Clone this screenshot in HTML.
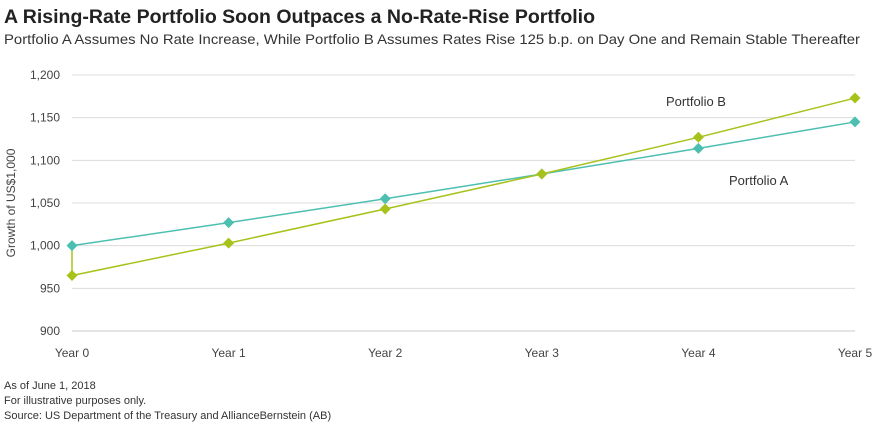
<!DOCTYPE html>
<html><head><meta charset="utf-8"><style>
body{margin:0;background:#fff;font-family:"Liberation Sans",sans-serif;}
svg text{font-family:"Liberation Sans",sans-serif;}
</style></head><body>
<svg width="880" height="425" viewBox="0 0 880 425">
<text x="4" y="23" font-size="19" font-weight="bold" fill="#222" textLength="591" lengthAdjust="spacingAndGlyphs">A Rising-Rate Portfolio Soon Outpaces a No-Rate-Rise Portfolio</text>
<text x="4" y="44" font-size="14" fill="#333" textLength="856" lengthAdjust="spacingAndGlyphs">Portfolio A Assumes No Rate Increase, While Portfolio B Assumes Rates Rise 125 b.p. on Day One and Remain Stable Thereafter</text>
<g id="grid"></g><g id="ylab"></g><g id="xlab"></g><g id="series"></g>
<text transform="translate(15,203) rotate(-90)" text-anchor="middle" font-size="12" fill="#444">Growth of US$1,000</text>
<text x="666" y="106" font-size="13" fill="#333">Portfolio B</text>
<text x="729" y="185" font-size="13" fill="#333">Portfolio A</text>
<text x="4" y="389" font-size="11" fill="#333">As of June 1, 2018</text>
<text x="4" y="404" font-size="11" fill="#333">For illustrative purposes only.</text>
<text x="4" y="419" font-size="11" fill="#333">Source: US Department of the Treasury and AllianceBernstein (AB)</text>
</svg>
<script>
const categories=["Year 0","Year 1","Year 2","Year 3","Year 4","Year 5"];
const yTicks=[900,950,1000,1050,1100,1150,1200];
const seriesA=[1000,1027,1055,1084,1114,1145];
const seriesB=[965,1003,1043,1084,1127,1173];
const NS="http://www.w3.org/2000/svg";
const x=i=>72+i*(855-72)/(categories.length-1);
const y=v=>331-(v-900)*(331-75)/300;
function mk(tag,attrs,parent,txt){const e=document.createElementNS(NS,tag);for(const k in attrs)e.setAttribute(k,attrs[k]);if(txt!==undefined)e.textContent=txt;document.getElementById(parent).appendChild(e);return e;}
yTicks.forEach(t=>{
 const l=mk('line',{x1:72,x2:855,y1:y(t),y2:y(t),stroke:t===900?'#c8c8c8':'#dcdcdc','stroke-width':1},'grid');
 
 
 const tx=mk('text',{x:60,y:y(t)+4,'text-anchor':'end','font-size':12,fill:'#444'},'ylab',t.toLocaleString('en-US'));
 
 
});
categories.forEach((c,i)=>{
 const tx=mk('text',{x:x(i),y:357,'text-anchor':'middle','font-size':12,fill:'#444'},'xlab',c);
 
 
});
const jump=mk('line',{x1:x(0),x2:x(0),y1:y(seriesA[0]),y2:y(seriesB[0]),stroke:'#a8c21c','stroke-width':1.5},'series');


function draw(data,color,name){
 const p=mk('polyline',{points:data.map((v,i)=>x(i)+','+y(v)).join(' '),fill:'none',stroke:color,'stroke-width':1.5},'series');
 
 
 data.forEach((v,i)=>{
  const cx=x(i),cy=y(v),r=5.5;
  const d=mk('polygon',{points:`${cx},${cy-r} ${cx+r},${cy} ${cx},${cy+r} ${cx-r},${cy}`,fill:color},'series');
  
  
 });
}
draw(seriesA,'#4dbfb0','portfolio-a');
draw(seriesB,'#a8c21c','portfolio-b');
</script>
</body></html>
